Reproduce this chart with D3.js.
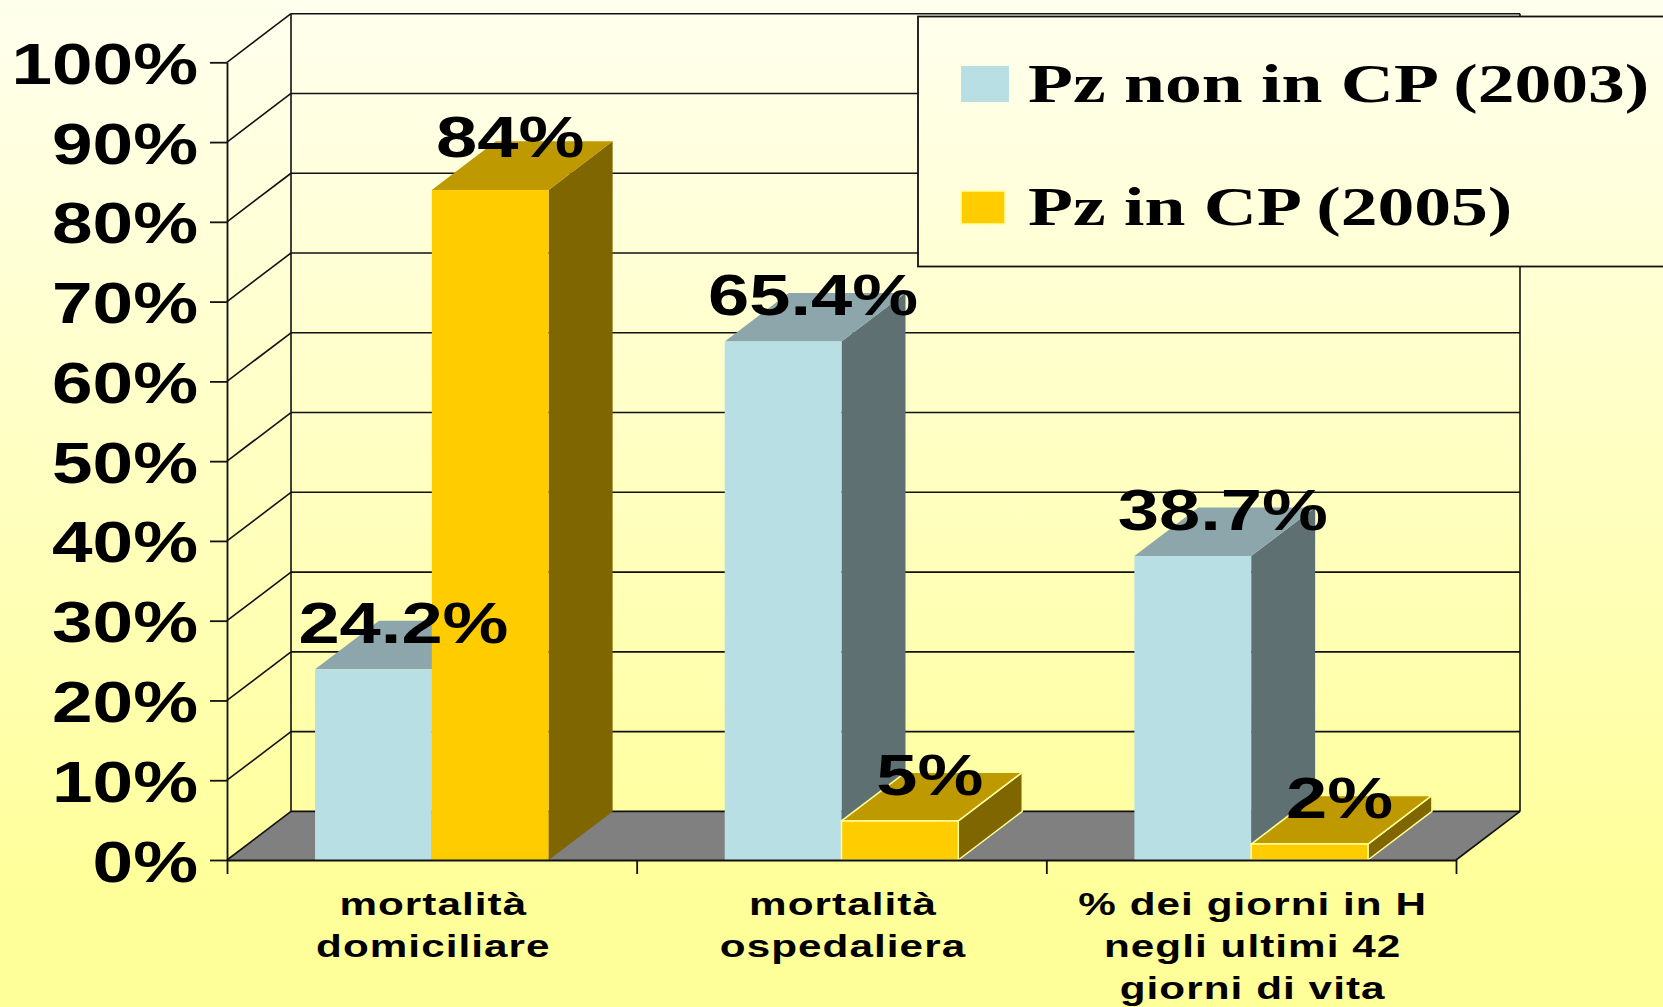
<!DOCTYPE html>
<html>
<head>
<meta charset="utf-8">
<script src="https://cdn.jsdelivr.net/npm/d3@7"></script>
<style>
  html, body { margin: 0; padding: 0; overflow: hidden; }
  text { fill: #000; }
</style>
</head>
<body>
<script>
let categories = [
  ['mortalità', 'domiciliare'],
  ['mortalità', 'ospedaliera'],
  ['% dei giorni in H', 'negli ultimi 42', 'giorni di vita']
]
let seriesNames = ['Pz non in CP (2003)', 'Pz in CP (2005)']
// bar heights, they differ a bit from the printed labels
let blueValues = [23.9, 65, 38.1]
let goldValues = [84, 4.9, 2]
let blueLabels = ['24.2%', '65.4%', '38.7%']
let goldLabels = ['84%', '5%', '2%']
let yTicks = [0, 10, 20, 30, 40, 50, 60, 70, 80, 90, 100]

let width = 1663, height = 1007
let depthX = 64, depthY = -48.6
let stretchTicks = 1.28, stretchValues = 1.3

let scaleY = d3.scaleLinear().domain([0, 100]).range([860, 62.3])
let scaleX = d3.scaleBand().domain(d3.range(categories.length)).range([227, 1456])
let scaleSeries = d3.scaleBand().domain([0, 1]).range([0, scaleX.bandwidth()]).paddingInner(0).paddingOuter(0.754)
let left = scaleX.range()[0], right = scaleX.range()[1]

let svg = d3.select('body').append('svg')
  .attr('width', width)
  .attr('height', height)
  .style('display', 'block')

let grad = svg.append('defs').append('linearGradient')
  .attr('id', 'bg')
  .attr('gradientUnits', 'userSpaceOnUse')
  .attr('x1', 0).attr('y1', 0).attr('x2', 0).attr('y2', 906)
grad.append('stop').attr('offset', 0).attr('stop-color', '#ffffee')
grad.append('stop').attr('offset', 1).attr('stop-color', '#ffff99')

svg.append('rect').attr('width', width).attr('height', height).attr('fill', 'url(#bg)')

let line = '#111'
let pts = a => a.map(p => p.join(',')).join(' ')

// floor
svg.append('polygon')
  .attr('points', pts([[left, scaleY(0)], [left + depthX, scaleY(0) + depthY], [right + depthX, scaleY(0) + depthY], [right, scaleY(0)]]))
  .attr('fill', '#808080')

// walls + gridlines
let grid = svg.append('g').attr('stroke', line).attr('stroke-width', 1.6).attr('fill', 'none')
grid.selectAll('.h').data(yTicks).enter().append('line')
  .attr('x1', left + depthX).attr('x2', right + depthX)
  .attr('y1', d => scaleY(d) + depthY).attr('y2', d => scaleY(d) + depthY)
grid.selectAll('.d').data(yTicks).enter().append('line')
  .attr('x1', left).attr('x2', left + depthX)
  .attr('y1', d => scaleY(d)).attr('y2', d => scaleY(d) + depthY)
grid.append('line')
  .attr('x1', left + depthX).attr('x2', left + depthX)
  .attr('y1', scaleY(0) + depthY).attr('y2', scaleY(100) + depthY)
grid.append('line')
  .attr('x1', right + depthX).attr('x2', right + depthX)
  .attr('y1', scaleY(0) + depthY).attr('y2', scaleY(100) + depthY)
grid.append('line')
  .attr('x1', right).attr('x2', right + depthX)
  .attr('y1', scaleY(0)).attr('y2', scaleY(0) + depthY)

let blueTones = {front: '#b8dfe4', top: '#8da6ab', side: '#5f7073'}
let goldTones = {front: '#ffcc00', top: '#bf9900', side: '#806600'}

function drawBars(values, s, tones) {
  values.forEach((v, i) => {
    let x0 = scaleX(i) + scaleSeries(s), x1 = x0 + scaleSeries.bandwidth()
    let y0 = scaleY(0), y1 = scaleY(v)
    let edge = v < 10 ? '#ffff99' : 'none'
    let g = svg.append('g').attr('stroke', edge).attr('stroke-width', 1.5).attr('stroke-linejoin', 'round')
    g.append('polygon').attr('fill', tones.side)
      .attr('points', pts([[x1, y0], [x1 + depthX, y0 + depthY], [x1 + depthX, y1 + depthY], [x1, y1]]))
    g.append('polygon').attr('fill', tones.top)
      .attr('points', pts([[x0, y1], [x0 + depthX, y1 + depthY], [x1 + depthX, y1 + depthY], [x1, y1]]))
    g.append('rect').attr('fill', tones.front)
      .attr('x', x0).attr('y', y1).attr('width', x1 - x0).attr('height', y0 - y1)
  })
}
drawBars(blueValues, 0, blueTones)
drawBars(goldValues, 1, goldTones)

// y axis
let axisY = svg.append('g')
  .attr('transform', 'translate(' + left + ',0)')
  .call(d3.axisLeft(scaleY).tickValues(yTicks).tickSize(17).tickSizeOuter(0).tickFormat(d => d + '%'))
axisY.selectAll('line, path').attr('stroke', line).attr('stroke-width', 1.8)
axisY.selectAll('text')
  .attr('font-family', '"Liberation Sans", Arial, sans-serif')
  .attr('font-weight', 'bold')
  .attr('font-size', 57)
  .attr('text-anchor', 'end')
  .attr('x', -29 / stretchTicks)
  .attr('dy', 21)
  .attr('transform', 'scale(' + stretchTicks + ',1)')

// x axis, ticks sit on the category boundaries
let scaleEdges = d3.scaleLinear().domain([0, categories.length]).range([left, right])
let axisX = svg.append('g')
  .attr('transform', 'translate(0,' + scaleY(0) + ')')
  .call(d3.axisBottom(scaleEdges).ticks(categories.length).tickSize(14).tickSizeOuter(0).tickFormat(''))
axisX.selectAll('line, path').attr('stroke', line).attr('stroke-width', 1.8)

// category labels
categories.forEach((lines, i) => {
  lines.forEach((t, j) => {
    svg.append('text')
      .attr('transform', 'translate(' + (scaleX(i) + scaleX.bandwidth() / 2 + 1.5) + ',' + (915 + j * 42) + ') scale(1.32,1)')
      .attr('text-anchor', 'middle')
      .attr('font-family', '"Liberation Sans", Arial, sans-serif')
      .attr('font-weight', 'bold')
      .attr('font-size', 32)
      .attr('letter-spacing', 0.8)
      .text(t)
  })
})

// value labels
function drawLabels(labels, values, s) {
  labels.forEach((t, i) => {
    // the 84% label sits lower-left of the usual spot on its bar
    let isTall = values[i] > 80
    let cx = scaleX(i) + scaleSeries(s) + scaleSeries.bandwidth() / 2 + (isTall ? 20 : 30)
    let by = scaleY(values[i]) - (isTall ? 33 : 26)
    svg.append('text')
      .attr('transform', 'translate(' + cx + ',' + by + ') scale(' + stretchValues + ',1)')
      .attr('text-anchor', 'middle')
      .attr('font-family', '"Liberation Sans", Arial, sans-serif')
      .attr('font-weight', 'bold')
      .attr('font-size', 57)
      .text(t)
  })
}
drawLabels(blueLabels, blueValues, 0)
drawLabels(goldLabels, goldValues, 1)

// legend, runs off the right edge
svg.append('rect')
  .attr('x', 918).attr('y', 16.5).attr('width', 800).attr('height', 250)
  .attr('fill', 'url(#bg)').attr('stroke', line).attr('stroke-width', 1.8)

let legendRows = [
  {swatch: [961, 66, 48, 36], tone: blueTones.front, edge: 'none', base: 101.7},
  {swatch: [961, 191, 44, 33], tone: goldTones.front, edge: '#ffff99', base: 225}
]
legendRows.forEach((r, i) => {
  svg.append('rect')
    .attr('x', r.swatch[0]).attr('y', r.swatch[1]).attr('width', r.swatch[2]).attr('height', r.swatch[3])
    .attr('fill', r.tone).attr('stroke', r.edge).attr('stroke-width', 1.5)
  svg.append('text')
    .attr('transform', 'translate(1028,' + r.base + ') scale(1.338,1)')
    .attr('font-family', '"Liberation Serif", "Times New Roman", serif')
    .attr('font-weight', 'bold')
    .attr('font-size', 55)
    .text(seriesNames[i])
})
</script>
</body>
</html>
